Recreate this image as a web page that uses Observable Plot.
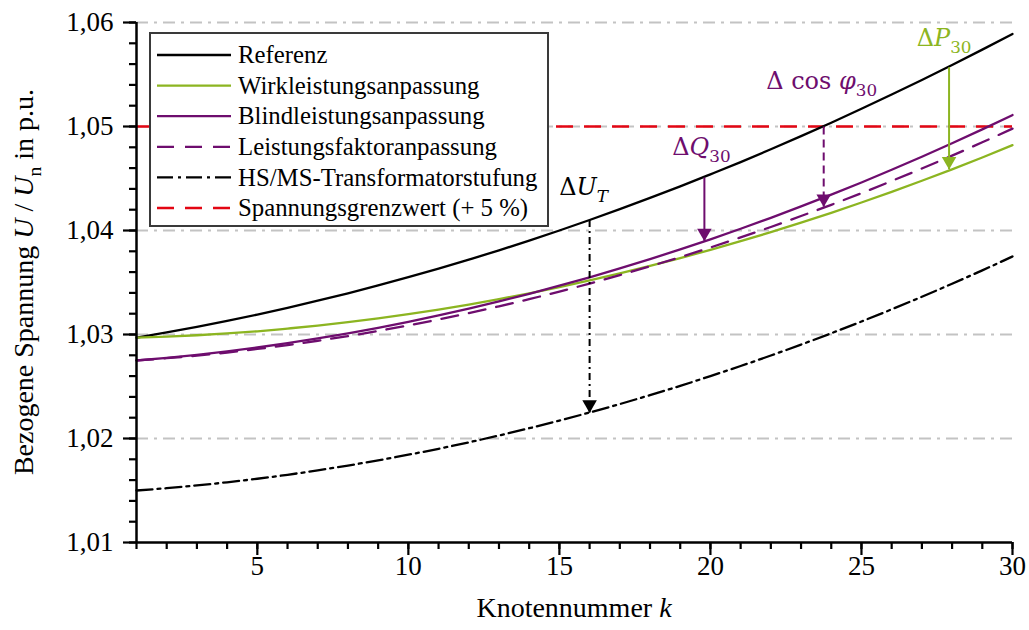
<!DOCTYPE html>
<html><head><meta charset="utf-8">
<script src="https://cdn.jsdelivr.net/npm/d3@7"></script>
<script src="https://cdn.jsdelivr.net/npm/@observablehq/plot@0.6"></script>
<style>body{margin:0;background:#fff}#chart{width:1029px;height:630px}</style>
</head><body><div id="chart"></div>
<script>
const knoten = [1,2,3,4,5,6,7,8,9,10,11,12,13,14,15,16,17,18,19,20,21,22,23,24,25,26,27,28,29,30];
const referenz = [1.02970,1.03020,1.03074,1.03131,1.03192,1.03257,1.03325,1.03396,1.03472,1.03551,1.03633,1.03720,1.03809,1.03903,1.04000,1.04101,1.04205,1.04313,1.04424,1.04540,1.04658,1.04781,1.04907,1.05036,1.05170,1.05307,1.05447,1.05591,1.05739,1.05890];
const wirk = [1.02970,1.02980,1.02993,1.03010,1.03031,1.03057,1.03085,1.03118,1.03155,1.03195,1.03240,1.03288,1.03340,1.03396,1.03456,1.03520,1.03588,1.03659,1.03735,1.03814,1.03897,1.03984,1.04075,1.04170,1.04269,1.04372,1.04478,1.04588,1.04702,1.04821];
const blind = [1.02750,1.02775,1.02805,1.02838,1.02875,1.02916,1.02962,1.03011,1.03064,1.03122,1.03183,1.03248,1.03318,1.03391,1.03469,1.03550,1.03635,1.03725,1.03818,1.03915,1.04017,1.04122,1.04232,1.04345,1.04462,1.04584,1.04709,1.04839,1.04972,1.05110];
const faktor = [1.02750,1.02772,1.02797,1.02827,1.02861,1.02898,1.02940,1.02985,1.03034,1.03088,1.03145,1.03206,1.03271,1.03340,1.03413,1.03490,1.03571,1.03656,1.03744,1.03837,1.03934,1.04034,1.04139,1.04247,1.04359,1.04476,1.04596,1.04720,1.04848,1.04980];
const trafo = [1.01500,1.01522,1.01549,1.01579,1.01613,1.01651,1.01694,1.01740,1.01790,1.01844,1.01901,1.01963,1.02029,1.02099,1.02172,1.02250,1.02331,1.02417,1.02506,1.02600,1.02697,1.02798,1.02903,1.03012,1.03125,1.03242,1.03363,1.03488,1.03617,1.03750];
const grenzwert = [1.05];

const gridValues = [1.02,1.03,1.04,1.05,1.06];
const xMajor = [5,10,15,20,25,30];
const xMinor = [1,2,3,4,5,6,7,8,9,10,11,12,13,14,15,16,17,18,19,20,21,22,23,24,25,26,27,28,29,30];
const yMajor = [1.01,1.02,1.03,1.04,1.05,1.06];
const yMinor = [1.01,1.012,1.014,1.016,1.018,1.02,1.022,1.024,1.026,1.028,1.03,1.032,1.034,1.036,1.038,1.04,1.042,1.044,1.046,1.048,1.05,1.052,1.054,1.056,1.058,1.06];

const seriesNames = ["Referenz","Wirkleistungsanpassung","Blindleistungsanpassung","Leistungsfaktoranpassung","HS/MS-Transformatorstufung","Spannungsgrenzwert (+ 5 %)"];

// annotation arrows
const arrowK = [16, 19.8, 23.75, 27.9];
const arrowFrom = [1.0410, 1.0451, 1.0500, 1.0557];
const arrowTo = [1.0225, 1.0390, 1.0423, 1.0459];
const arrowLabels = ["Δ|i~U|is~T", "Δ|i~Q|s~30", "Δ cos |i~φ|s~30", "Δ|i~P|s~30"];

const BLACK = "#000000", GREEN = "#8cb521", PURPLE = "#6e0d6e", RED = "#e30613";
const seriesColors = [BLACK, GREEN, PURPLE, PURPLE, BLACK, RED];
const seriesDash = [null, null, null, "17,11", "16,5,3,5", "17,11"];
const arrowColors = [BLACK, PURPLE, PURPLE, GREEN];
const arrowDash = ["7,4,2,4", null, "8,5", null];
const labelOffsets = [[-6,-33],[-3,-30],[-2,-45],[-5,-29]];

const rows = knoten.map((k,i)=>({k, ref: referenz[i], wirk: wirk[i], blind: blind[i], faktor: faktor[i], trafo: trafo[i]}));
const arrows = arrowK.map((k,i)=>({k, from: arrowFrom[i], to: arrowTo[i], label: arrowLabels[i], color: arrowColors[i], dash: arrowDash[i], off: labelOffsets[i]}));
const seriesKeys = ["ref","wirk","blind","faktor","trafo"];

const fmt = d => d.toFixed(2).replace(".", ",");
const FONT = "'Liberation Serif', 'Times New Roman', serif";
const MATH = "'DejaVu Serif', serif";

const marks = [
  Plot.ruleY(gridValues, {stroke: "#c3c3c3", strokeWidth: 2, strokeDasharray: "12,6,3,6"}),
  Plot.ruleY(grenzwert, {stroke: RED, strokeWidth: 2.5, strokeDasharray: seriesDash[5]}),
  ...seriesKeys.map((key,i)=>Plot.line(rows, {x: "k", y: key, stroke: seriesColors[i], strokeWidth: 2.3, strokeDasharray: seriesDash[i], curve: "monotone-x"})),
  ...arrows.map(a => Plot.link([a], {x1: "k", x2: "k", y1: "from", y2: "to", stroke: a.color, strokeWidth: 2, strokeDasharray: a.dash})),
  ...arrows.map(a => Plot.dot([a], {x: "k", y: "to", symbol: "triangle", r: 5.4, rotate: 180, fill: a.color, stroke: "none", dy: -8})),
  ...arrows.map(a => Plot.text([a], {x: "k", y: "from", text: "label", fill: a.color, fontSize: 24, fontFamily: MATH, dx: a.off[0], dy: a.off[1]})),
  Plot.axisX(xMinor, {tickSize: 7, tickFormat: () => "", strokeWidth: 2.2, label: null}),
  Plot.axisX(xMajor, {tickSize: 13, tickPadding: 0, strokeWidth: 2.2, fontSize: 27, fill: "black", tickFormat: d => String(d), label: null}),
  Plot.axisY(yMinor, {tickSize: 7, tickFormat: () => "", strokeWidth: 2.2, label: null}),
  Plot.axisY(yMajor, {tickSize: 13, tickPadding: 10, strokeWidth: 2.2, fontSize: 27, fill: "black", tickFormat: fmt, label: null}),
  Plot.ruleX([1], {stroke: "black", strokeWidth: 2.5}),
  Plot.ruleY([1.01], {stroke: "black", strokeWidth: 2.5})
];

const plot = Plot.plot({
  width: 1029, height: 630,
  marginLeft: 136, marginRight: 17, marginTop: 22, marginBottom: 88,
  x: {domain: [1, 30], axis: null, label: null},
  y: {domain: [1.01, 1.06], axis: null, label: null},
  style: {fontFamily: FONT, background: "white", color: "black", overflow: "visible"},
  marks
});
document.getElementById("chart").appendChild(plot);

// rich text helper: tokens separated by "|", flags before "~": i = italic, s = subscript
function rich(sel, str, fs) {
  sel.text(null);
  let inSub = false;
  str.split("|").forEach(tok => {
    let flags = "", txt = tok;
    const j = tok.indexOf("~");
    if (j >= 0) { flags = tok.slice(0, j); txt = tok.slice(j + 1); }
    const t = sel.append("tspan").text(txt);
    if (flags.includes("i")) t.attr("font-style", "italic");
    const sub = flags.includes("s");
    if (sub) { t.attr("font-size", (fs * 0.7) + "px"); }
    if (sub && !inSub) t.attr("dy", (fs * 0.28) + "px");
    if (!sub && inSub) t.attr("dy", (-fs * 0.28) + "px");
    inSub = sub;
  });
}

const svg = d3.select(plot);
svg.selectAll("text").each(function() {
  const s = d3.select(this);
  const t = s.text();
  if (t.includes("~")) { rich(s, t, 24); s.style("font-family", MATH); }
  else s.style("font-family", FONT);
});

const xs = plot.scale("x"), ys = plot.scale("y");
const cx = (xs.range[0] + xs.range[1]) / 2;
const cy = (ys.range[0] + ys.range[1]) / 2;

// axis titles
const xt = svg.append("text").attr("x", cx).attr("y", 617).attr("text-anchor", "middle")
  .style("font-family", FONT).attr("font-size", 28).attr("fill", "black");
rich(xt, "Knotennummer |i~k", 28);
const yt = svg.append("text").attr("transform", `translate(33,${cy}) rotate(-90)`).attr("text-anchor", "middle")
  .style("font-family", FONT).attr("font-size", 28).attr("fill", "black");
rich(yt, "Bezogene Spannung |i~U| / |i~U|s~n| in p.u.", 28);

// legend
const lg = svg.append("g").style("font-family", FONT).attr("font-size", 24.8).attr("text-anchor", "start");
lg.append("rect").attr("x", 150).attr("y", 33).attr("width", 398).attr("height", 193)
  .attr("fill", "white").attr("stroke", "#3a3a3a").attr("stroke-width", 2);
seriesNames.forEach((name, i) => {
  const y = 55 + i * 30.6;
  lg.append("line").attr("x1", 157).attr("x2", 231).attr("y1", y).attr("y2", y)
    .attr("stroke", seriesColors[i]).attr("stroke-width", 2.3)
    .attr("stroke-dasharray", seriesDash[i] || null);
  lg.append("text").attr("x", 238).attr("y", y).attr("dy", "0.33em").attr("text-anchor", "start").attr("fill", "black").text(name);
});
</script></body></html>
